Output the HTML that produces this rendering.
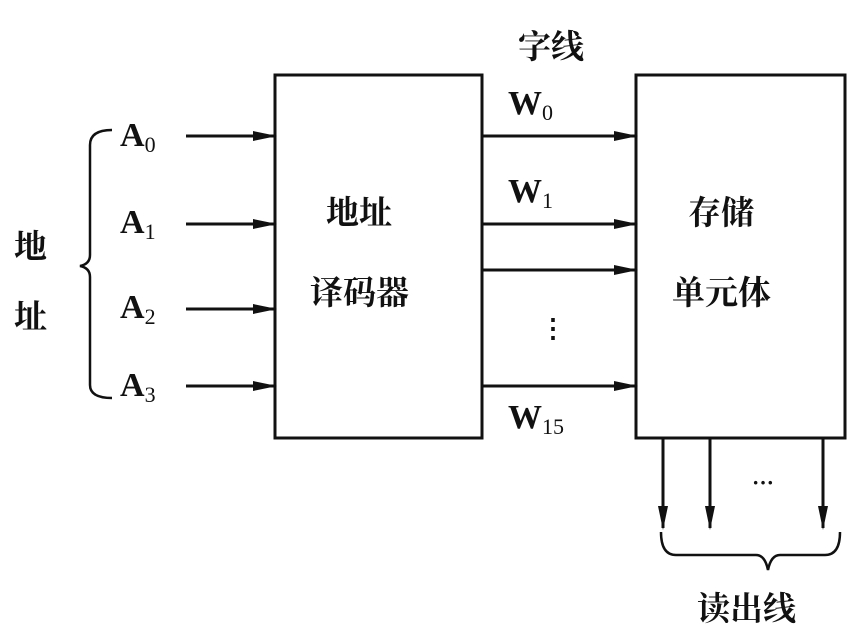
<!DOCTYPE html>
<html><head><meta charset="utf-8"><style>
body{margin:0;background:#fff}
svg text{font-family:"Liberation Serif","Noto Serif CJK SC",serif;fill:#111}
</style></head><body>
<svg width="864" height="636" viewBox="0 0 864 636" xmlns="http://www.w3.org/2000/svg">
<defs>
<marker id="b" markerWidth="24" markerHeight="12" refX="22" refY="6" orient="auto" markerUnits="userSpaceOnUse"><path d="M0,1 L24,6 L0,11 Z" fill="#111"/></marker></defs>
<g stroke="#111" fill="none">
<rect x="275" y="75" width="207" height="363" stroke-width="3"/>
<rect x="636" y="75" width="209" height="363" stroke-width="3"/>
<g stroke-width="3" marker-end="url(#b)">
<line x1="186" y1="136" x2="275" y2="136"/>
<line x1="186" y1="224" x2="275" y2="224"/>
<line x1="186" y1="309" x2="275" y2="309"/>
<line x1="186" y1="386" x2="275" y2="386"/>
<line x1="482" y1="136" x2="636" y2="136"/>
<line x1="482" y1="224" x2="636" y2="224"/>
<line x1="482" y1="270" x2="636" y2="270"/>
<line x1="482" y1="386" x2="636" y2="386"/>
<line x1="663" y1="438" x2="663" y2="528"/>
<line x1="710" y1="438" x2="710" y2="528"/>
<line x1="823" y1="438" x2="823" y2="528"/>
</g>
<path d="M112,130 Q90,130 90,145 L90,255 Q90,264 80,266 Q90,268 90,277 L90,385 Q90,398 112,398" stroke-width="2.5"/>
<path d="M661,532 Q661,555 676,555 L756,555 Q765,555 768,570 Q771,555 780,555 L825,555 Q840,555 840,532" stroke-width="2.5"/>
</g>
<g font-size="34" font-weight="bold">
<text x="120" y="146">A<tspan font-size="22" font-weight="normal" dy="6">0</tspan></text>
<text x="120" y="233">A<tspan font-size="22" font-weight="normal" dy="6">1</tspan></text>
<text x="120" y="318">A<tspan font-size="22" font-weight="normal" dy="6">2</tspan></text>
<text x="120" y="396">A<tspan font-size="22" font-weight="normal" dy="6">3</tspan></text>
<text x="508" y="114">W<tspan font-size="22" font-weight="normal" dy="6">0</tspan></text>
<text x="508" y="202">W<tspan font-size="22" font-weight="normal" dy="6">1</tspan></text>
<text x="508" y="428">W<tspan font-size="22" font-weight="normal" dy="6">15</tspan></text>
</g>
<g font-size="33" font-weight="bold">
<text x="518" y="58">字线</text>
<text x="326" y="224">地址</text>
<text x="310" y="304">译码器</text>
<text x="688" y="224">存储</text>
<text x="672" y="304">单元体</text>
<text x="14" y="258">地</text>
<text x="14" y="328">址</text>
<text x="697" y="620">读出线</text>
<text x="540" y="337" font-size="26">⋮</text>
<text x="752" y="490" font-size="22">···</text>
</g>
</svg>
</body></html>
